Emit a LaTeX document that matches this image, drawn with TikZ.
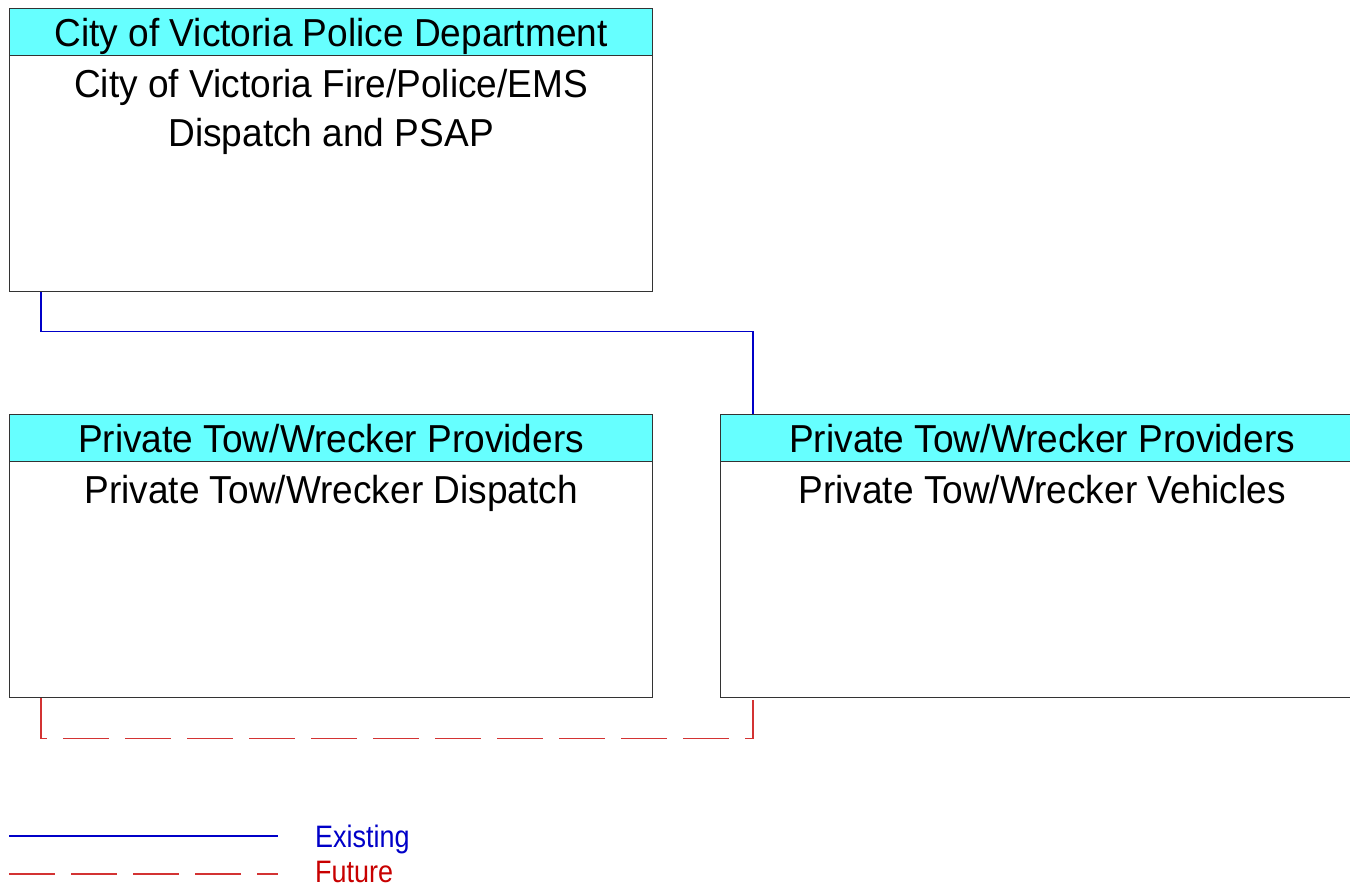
\documentclass[tikz,border=0pt]{standalone}
\usepackage{fontspec}
\setmainfont{Liberation Sans}[FakeStretch=0.95]
\newfontfamily\legendfont{Liberation Sans}[FakeStretch=0.87]
\usetikzlibrary{positioning}
\definecolor{headcyan}{HTML}{66FFFF}
\definecolor{existblue}{RGB}{0,0,200}
\definecolor{futurered}{RGB}{200,0,0}

\begin{document}
\begin{tikzpicture}[x=1pt,y=-1pt,
	box/.style={draw=black!80, line width=1.2pt, minimum width=643pt, minimum height=283pt, inner sep=0pt, anchor=north west},
	head/.style={draw=black!80, line width=1.2pt, fill=headcyan, minimum width=643pt, minimum height=47pt, inner sep=0pt, text height=28pt, text depth=0pt, font=\fontsize{39}{47}\selectfont, anchor=north},
	body/.style={align=center, inner sep=0pt, font=\fontsize{39}{49}\selectfont},
	existing/.style={draw=existblue, line width=1.3pt},
	future/.style={draw=futurered!80, line width=1.3pt, dash pattern=on 46pt off 16pt},
	legend/.style={anchor=base west, inner sep=0pt, font=\legendfont\fontsize{31}{31}\selectfont}]
			\useasboundingbox (0,0) rectangle (1350,887);
			\node[box] (cvpd) at (9,8) {};
			\node[head] (cvpdh) at (cvpd.north) {City of Victoria Police Department};
			\node[body, below=13pt of cvpdh] (cvpdb) {City of Victoria Fire/Police/EMS\\Dispatch and PSAP};
			\node[box] (twd) at (9,414) {};
			\node[head] (twdh) at (twd.north) {Private Tow/Wrecker Providers};
			\node[body, below=13pt of twdh] (twdb) {Private Tow/Wrecker Dispatch};
			\node[box] (twv) at (720,414) {};
			\node[head] (twvh) at (twv.north) {Private Tow/Wrecker Providers};
			\node[body, below=13pt of twvh] (twvb) {Private Tow/Wrecker Vehicles};
			\draw[existing] ([xshift=32pt]cvpd.south west) -- ++(0,39) -| ([xshift=33pt]twv.north west);
			\draw[future] ([xshift=32pt]twd.south west) -- ++(0,40) -| ([xshift=33pt]twv.south west);
			\coordinate (exa) at (9,836);
			\coordinate (exb) at (278,836);
			\coordinate (fua) at (9,874);
			\coordinate (fub) at (278,874);
			\draw[existing] (exa) -- (exb);
			\draw[future] (fua) -- (fub);
			\node[legend, text=existblue] (exlbl) at (315,847) {Existing};
			\node[legend, text=futurered] (fulbl) at (315,882) {Future};
\end{tikzpicture}
\end{document}
